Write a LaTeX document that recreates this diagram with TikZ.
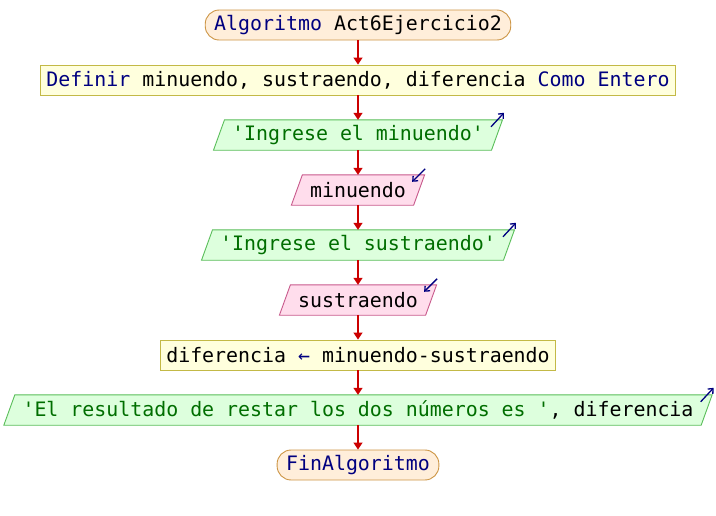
\documentclass[tikz,border=0pt]{standalone}
\usepackage{fontspec}
\setmonofont{DejaVu Sans Mono}
\usetikzlibrary{arrows.meta,backgrounds}

\definecolor{kwnavy}{RGB}{0,0,128}
\definecolor{strgreen}{RGB}{0,110,0}
\definecolor{flowred}{RGB}{204,0,0}
\definecolor{termfill}{RGB}{255,238,218}
\definecolor{termline}{RGB}{205,150,70}
\definecolor{procfill}{RGB}{255,255,221}
\definecolor{procline}{RGB}{195,185,70}
\definecolor{outfill}{RGB}{221,255,221}
\definecolor{outline}{RGB}{90,190,90}
\definecolor{infill}{RGB}{255,221,236}
\definecolor{inline}{RGB}{200,90,140}

\newcommand{\pkw}[1]{\textcolor{kwnavy}{#1}}
\newcommand{\pstr}[1]{\textcolor{strgreen}{#1}}

\tikzset{
    every node/.style={font=\ttfamily\fontsize{19.9}{24}\selectfont, minimum height=30pt, inner ysep=2pt},
    terminal/.style={draw=termline, fill=termfill, line width=0.9pt, rounded corners=14pt, inner xsep=9pt},
    process/.style={draw=procline, fill=procfill, line width=0.9pt, inner xsep=6pt},
    ionode/.style={inner xsep=13pt},
    salida/.style={draw=outline, fill=outfill, line width=0.9pt},
    entrada/.style={draw=inline, fill=infill, line width=0.9pt},
    flow/.style={draw=flowred, line width=1.5pt, -{Triangle[width=9pt,length=7pt]}},
    iomark/.style={draw=kwnavy, line width=1.3pt, -{Straight Barb[length=4pt,width=7pt]}}
}

\begin{document}
\begin{tikzpicture}[x=1pt,y=-1pt]
        \useasboundingbox (0,0) rectangle (716,515);

        % nodes
        \node[terminal] (inicio) at (358,25) {\pkw{Algoritmo} Act6Ejercicio2};
        \node[process] (definir) at (358,80) {\pkw{Definir} minuendo, sustraendo, diferencia \pkw{Como Entero}};
        \node[ionode] (escribir1) at (358,135) {\pstr{'Ingrese el minuendo'}};
        \node[ionode] (leer1) at (358,190) {minuendo};
        \node[ionode] (escribir2) at (358,245) {\pstr{'Ingrese el sustraendo'}};
        \node[ionode] (leer2) at (358,300) {sustraendo};
        \node[process] (asignar) at (358,355) {diferencia \pkw{←} minuendo-sustraendo};
        \node[ionode] (escribir3) at (358,410) {\pstr{'El resultado de restar los dos números es '}, diferencia};
        \node[terminal] (fin) at (358,465) {\pkw{FinAlgoritmo}};

        % parallelograms for input / output
        \begin{scope}[on background layer]
            \fill[white] (0,0) rectangle (716,515);
            \foreach \n/\s in {escribir1/salida,leer1/entrada,escribir2/salida,leer2/entrada,escribir3/salida}
                \filldraw[\s] ([xshift=-5.5]\n.south west) -- ([xshift=5.5]\n.north west)
                    -- ([xshift=5.5]\n.north east) -- ([xshift=-5.5]\n.south east) -- cycle;
        \end{scope}

        % flow
        \draw[flow] (inicio) -- (definir);
        \draw[flow] (definir) -- (escribir1);
        \draw[flow] (escribir1) -- (leer1);
        \draw[flow] (leer1) -- (escribir2);
        \draw[flow] (escribir2) -- (leer2);
        \draw[flow] (leer2) -- (asignar);
        \draw[flow] (asignar) -- (escribir3);
        \draw[flow] (escribir3) -- (fin);

        % io marks
        \foreach \n in {escribir1,escribir2,escribir3}
            \draw[iomark] ([shift={(-6,7)}]\n.north east) -- ([shift={(7,-7)}]\n.north east);
        \foreach \n in {leer1,leer2}
            \draw[iomark] ([shift={(6,-6)}]\n.north east) -- ([shift={(-7,7)}]\n.north east);
    \end{tikzpicture}
\end{document}
